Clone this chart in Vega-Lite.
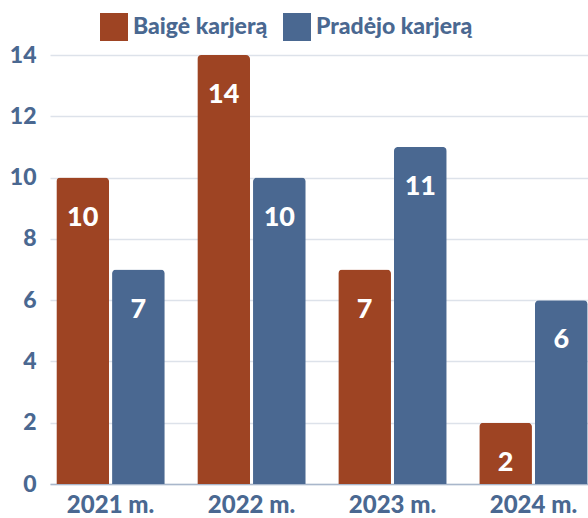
{
  "$schema": "https://vega.github.io/schema/vega-lite/v6.json",
  "autosize": "none",
  "width": 544,
  "height": 429,
  "padding": {"left": 50, "top": 55, "right": 0, "bottom": 34},
  "background": "white",
  "config": {
    "font": "Lato",
    "view": {"stroke": null}
  },
  "data": {
    "values": [
      {"year": "2021 m.", "series": "Baigė karjerą", "value": 10},
      {"year": "2021 m.", "series": "Pradėjo karjerą", "value": 7},
      {"year": "2022 m.", "series": "Baigė karjerą", "value": 14},
      {"year": "2022 m.", "series": "Pradėjo karjerą", "value": 10},
      {"year": "2023 m.", "series": "Baigė karjerą", "value": 7},
      {"year": "2023 m.", "series": "Pradėjo karjerą", "value": 11},
      {"year": "2024 m.", "series": "Baigė karjerą", "value": 2},
      {"year": "2024 m.", "series": "Pradėjo karjerą", "value": 6}
    ]
  },
  "encoding": {
    "x": {
      "field": "year", "type": "nominal", "title": null,
      "scale": {"paddingInner": 0.231, "paddingOuter": 0.045},
      "axis": {
        "labelAngle": 0, "labelFontSize": 24, "labelFontWeight": 900,
        "labelColor": "#4A6891", "labelPadding": 9, "ticks": false,
        "domainColor": "#A9B7CB", "domainWidth": 1.5, "grid": false
      }
    },
    "xOffset": {
      "field": "series", "type": "nominal",
      "sort": ["Baigė karjerą", "Pradėjo karjerą"],
      "scale": {"paddingInner": 0.054}
    },
    "y": {
      "field": "value", "type": "quantitative", "title": null,
      "scale": {"domain": [0, 14], "nice": false},
      "axis": {
        "values": [0, 2, 4, 6, 8, 10, 12, 14],
        "labelFontSize": 23, "labelFontWeight": 900, "labelColor": "#4A6891",
        "labelPadding": 14, "ticks": false, "domain": false,
        "gridColor": "#DDE2EA", "gridWidth": 1.5
      }
    }
  },
  "layer": [
    {
      "mark": {"type": "bar", "cornerRadiusTopLeft": 4, "cornerRadiusTopRight": 4},
      "encoding": {
        "color": {
          "field": "series", "type": "nominal", "title": null,
          "scale": {"domain": ["Baigė karjerą", "Pradėjo karjerą"], "range": ["#9E4423", "#4A6891"]},
          "legend": {
            "orient": "none", "legendX": 50, "legendY": -42, "direction": "horizontal",
            "symbolType": "square", "symbolSize": 784, "symbolStrokeWidth": 0,
            "labelFontSize": 23, "labelFontWeight": 900, "labelColor": "#4A6891",
            "labelOffset": 5, "columnPadding": 15, "labelLimit": 300
          }
        }
      }
    },
    {
      "mark": {"type": "text", "color": "white", "fontSize": 27, "fontWeight": 900, "baseline": "middle", "dy": 40},
      "encoding": {
        "text": {"field": "value", "type": "quantitative"}
      }
    }
  ]
}
